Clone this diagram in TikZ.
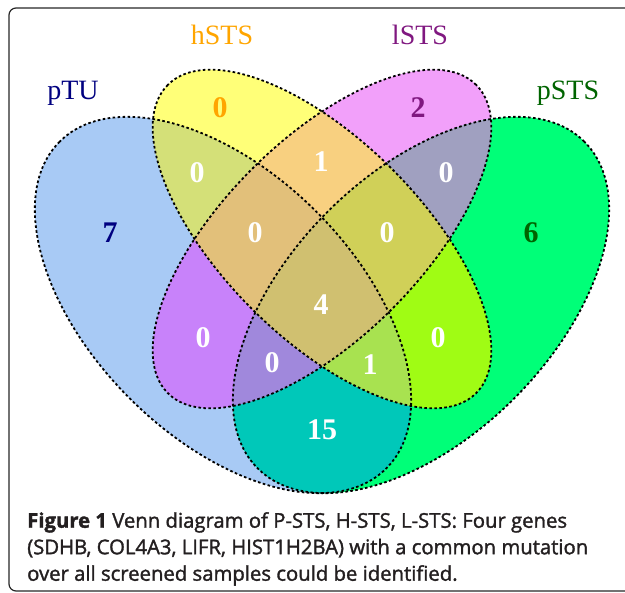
\documentclass[tikz,border=0pt]{standalone}
\usepackage{fontspec}
\setmainfont{Liberation Serif}
\newfontfamily\capfont{Open Sans}

\definecolor{cA}{RGB}{168,202,245}
\definecolor{cB}{RGB}{255,255,120}
\definecolor{cC}{RGB}{242,160,250}
\definecolor{cD}{RGB}{0,255,120}
\definecolor{cAB}{RGB}{212,224,120}
\definecolor{cBC}{RGB}{248,208,128}
\definecolor{cCD}{RGB}{160,160,192}
\definecolor{cAC}{RGB}{200,130,250}
\definecolor{cBD}{RGB}{160,252,20}
\definecolor{cAD}{RGB}{0,200,185}
\definecolor{cABC}{RGB}{226,192,122}
\definecolor{cBCD}{RGB}{208,208,88}
\definecolor{cACD}{RGB}{160,136,220}
\definecolor{cABD}{RGB}{168,226,80}
\definecolor{cABCD}{RGB}{208,192,112}
\definecolor{namA}{RGB}{0,0,128}
\definecolor{namB}{RGB}{255,165,0}
\definecolor{namC}{RGB}{128,24,128}
\definecolor{namD}{RGB}{0,100,0}
\definecolor{captext}{RGB}{35,31,32}

\tikzset{
  setA/.style={shift={(223,305)}, rotate=135,
    insert path={(0,0) ellipse [x radius=231pt, y radius=132pt]}},
  setB/.style={shift={(322,239)}, rotate=135,
    insert path={(0,0) ellipse [x radius=218pt, y radius=99pt]}},
  setC/.style={shift={(322,239)}, rotate=45,
    insert path={(0,0) ellipse [x radius=218pt, y radius=99pt]}},
  setD/.style={shift={(421,305)}, rotate=45,
    insert path={(0,0) ellipse [x radius=231pt, y radius=132pt]}},
  outline/.style={draw=black, line width=1.8pt, dash pattern=on 2.6pt off 2.4pt},
  count/.style={font=\bfseries\fontsize{30}{30}\selectfont, text=white, inner sep=0pt},
  setname/.style={font=\fontsize{28}{28}\selectfont, inner sep=0pt}
}

\begin{document}
\begin{tikzpicture}[x=1pt, y=-1pt]
  \useasboundingbox (0,0) rectangle (625,593);
  \draw[draw=black!85, line width=1.2pt, rounded corners=7pt] (9,8) rectangle (650,591);

  % one set
  \fill[cA, setA];
  \fill[cB, setB];
  \fill[cC, setC];
  \fill[cD, setD];
  % two sets
  \begin{scope} \clip[setA]; \fill[cAB, setB]; \end{scope}
  \begin{scope} \clip[setA]; \fill[cAC, setC]; \end{scope}
  \begin{scope} \clip[setA]; \fill[cAD, setD]; \end{scope}
  \begin{scope} \clip[setB]; \fill[cBC, setC]; \end{scope}
  \begin{scope} \clip[setB]; \fill[cBD, setD]; \end{scope}
  \begin{scope} \clip[setC]; \fill[cCD, setD]; \end{scope}
  % three sets
  \begin{scope} \clip[setA]; \clip[setB]; \fill[cABC, setC]; \end{scope}
  \begin{scope} \clip[setA]; \clip[setB]; \fill[cABD, setD]; \end{scope}
  \begin{scope} \clip[setA]; \clip[setC]; \fill[cACD, setD]; \end{scope}
  \begin{scope} \clip[setB]; \clip[setC]; \fill[cBCD, setD]; \end{scope}
  % all four
  \begin{scope} \clip[setA]; \clip[setB]; \clip[setC]; \fill[cABCD, setD]; \end{scope}

  \draw[outline, setA];
  \draw[outline, setB];
  \draw[outline, setC];
  \draw[outline, setD];

  % set names
  \node[setname, text=namA] (lA) at (73,93) {pTU};
  \node[setname, text=namB] (lB) at (222,35) {hSTS};
  \node[setname, text=namC] (lC) at (420,35) {lSTS};
  \node[setname, text=namD] (lD) at (568,93) {pSTS};

  % counts
  \node[count, text=namA] (nA) at (110,233) {7};
  \node[count, text=namB] (nB) at (220,108) {0};
  \node[count, text=namC] (nC) at (418,108) {2};
  \node[count, text=namD] (nD) at (531,233) {6};
  \node[count] (nAB) at (197,173) {0};
  \node[count] (nBC) at (321,162) {1};
  \node[count] (nCD) at (446,173) {0};
  \node[count] (nAC) at (203,338) {0};
  \node[count] (nBD) at (438,338) {0};
  \node[count] (nAD) at (322,430) {15};
  \node[count] (nABC) at (255,233) {0};
  \node[count] (nBCD) at (387,233) {0};
  \node[count] (nACD) at (272,363) {0};
  \node[count] (nABD) at (370,365) {1};
  \node[count] (nABCD) at (321,305) {4};

  % caption
  \node[anchor=north west, inner sep=0pt, align=left, text=captext,
        font=\capfont\addfontfeature{FakeBold=1.6}\fontsize{20.3}{26.5}\selectfont] (cap) at (27,512)
    {\textbf{Figure 1} Venn diagram of P-STS, H-STS, L-STS: Four genes\\
     (SDHB, COL4A3, LIFR, HIST1H2BA) with a common mutation\\
     over all screened samples could be identified.};
\end{tikzpicture}
\end{document}
